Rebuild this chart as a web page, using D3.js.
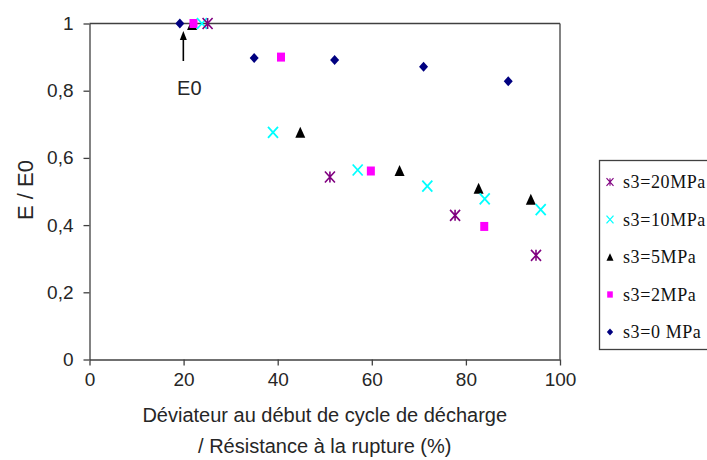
<!DOCTYPE html>
<html><head><meta charset="utf-8">
<script src="https://cdn.jsdelivr.net/npm/d3@7"></script>
<style>body{margin:0;background:#fff} svg{display:block}</style></head>
<body>
<svg id="c" width="707" height="460"></svg>
<script>
// ---- data ----
const xTicks = [0, 20, 40, 60, 80, 100];
const yTicks = [0, 0.2, 0.4, 0.6, 0.8, 1];
const yTickLabels = ["0", "0,2", "0,4", "0,6", "0,8", "1"];

const s0Name = "s3=0 MPa";
const s0x = [19.2, 35.0, 52.1, 71.0, 89.0];
const s0y = [1.0, 0.897, 0.891, 0.871, 0.828];

const s2Name = "s3=2MPa";
const s2x = [22.1, 40.7, 59.8, 83.9];
const s2y = [1.0, 0.90, 0.561, 0.396];

const s5Name = "s3=5MPa";
const s5x = [21.8, 44.8, 65.9, 82.7, 93.8];
const s5y = [0.997, 0.676, 0.5625, 0.51, 0.477];

const s10Name = "s3=10MPa";
const s10x = [23.9, 39.0, 57.0, 71.8, 84.0, 95.9];
const s10y = [1.0, 0.676, 0.564, 0.516, 0.478, 0.446];

const s20Name = "s3=20MPa";
const s20x = [25.1, 51.1, 77.7, 94.9];
const s20y = [1.0, 0.543, 0.429, 0.31];

const xTitle1 = "Déviateur au début de cycle de décharge";
const xTitle2 = "/ Résistance à la rupture (%)";
const yTitle = "E / E0";
const annot = "E0";
const annotX = 19.2;

// ---- layout ----
const svg = d3.select("#c");
const x = d3.scaleLinear().domain([0, 100]).range([89.5, 560]);
const y = d3.scaleLinear().domain([0, 1]).range([359.5, 23.5]);
const axisColor = "#404040";
const textColor = "#262626";

const markers = {
  diamond: {path: "M0,-5L4.5,0L0,5L-4.5,0Z", fill: true},
  square: {path: "M-4,-4.5H4V4.5H-4Z", fill: true},
  triangle: {path: "M0,-5.5L5,5.5L-5,5.5Z", fill: true},
  cross: {path: "M-5,-5.5L5,5.5M5,-5.5L-5,5.5", fill: false, sw: 1.8},
  star: {path: "M-5,-5.5L5,5.5M5,-5.5L-5,5.5M0,-5.5V5.5", fill: false, sw: 1.6}
};

const series = [
  {name: s0Name, xs: s0x, ys: s0y, color: "#000080", m: "diamond"},
  {name: s5Name, xs: s5x, ys: s5y, color: "#000000", m: "triangle"},
  {name: s2Name, xs: s2x, ys: s2y, color: "#FF00FF", m: "square"},
  {name: s10Name, xs: s10x, ys: s10y, color: "#00FFFF", m: "cross"},
  {name: s20Name, xs: s20x, ys: s20y, color: "#800080", m: "star"}
];
const legendOrder = [s20Name, s10Name, s5Name, s2Name, s0Name];

function styleMarker(sel, s) {
  const mk = markers[s.m];
  sel.attr("d", mk.path)
    .attr("fill", mk.fill ? s.color : "none")
    .attr("stroke", mk.fill ? "none" : s.color)
    .attr("stroke-width", mk.sw || 0);
}

// frame (top & right)
svg.append("line").attr("x1", x(0)).attr("x2", x(100)).attr("y1", y(1)).attr("y2", y(1))
  .attr("stroke", axisColor).attr("stroke-width", 1.3);
svg.append("line").attr("x1", x(100)).attr("x2", x(100)).attr("y1", y(1)).attr("y2", y(0))
  .attr("stroke", axisColor).attr("stroke-width", 1.3);

// axes
const xAxis = svg.append("g").attr("transform", `translate(0,${y(0)})`)
  .call(d3.axisBottom(x).tickValues(xTicks).tickSize(6).tickSizeOuter(0).tickPadding(7));
const yAxis = svg.append("g").attr("transform", `translate(${x(0)},0)`)
  .call(d3.axisLeft(y).tickValues(yTicks).tickSize(6).tickSizeOuter(0).tickPadding(10)
    .tickFormat((d, i) => yTickLabels[i]));
[xAxis, yAxis].forEach(a => {
  a.select(".domain").attr("stroke", axisColor).attr("stroke-width", 1.3);
  a.selectAll(".tick line").attr("stroke", axisColor).attr("stroke-width", 1.3);
  a.selectAll(".tick text").attr("fill", textColor)
    .style("font-family", "'Liberation Sans', Arial, sans-serif").style("font-size", "19px");
});

// titles
const tf = "'Liberation Sans', Arial, sans-serif";
svg.append("text").attr("x", (x(0) + x(100)) / 2).attr("y", 422).attr("text-anchor", "middle")
  .style("font-family", tf).style("font-size", "20px").attr("fill", textColor).text(xTitle1);
svg.append("text").attr("x", (x(0) + x(100)) / 2).attr("y", 453).attr("text-anchor", "middle")
  .style("font-family", tf).style("font-size", "20px").attr("fill", textColor).text(xTitle2);
svg.append("text").attr("transform", "translate(33,190) rotate(-90)").attr("text-anchor", "middle")
  .style("font-family", tf).style("font-size", "22px").attr("fill", textColor).text(yTitle);

// annotation arrow
const ax = x(annotX) + 3.5;
svg.append("line").attr("x1", ax).attr("x2", ax).attr("y1", 61).attr("y2", 38)
  .attr("stroke", "#000").attr("stroke-width", 1.6);
svg.append("path").attr("d", `M${ax},31L${ax + 3.5},40L${ax - 3.5},40Z`).attr("fill", "#000");
svg.append("text").attr("x", ax + 6).attr("y", 95).attr("text-anchor", "middle")
  .style("font-family", tf).style("font-size", "20px").attr("fill", textColor).text(annot);

// points
series.forEach(s => {
  const pts = s.xs.map((v, i) => [v, s.ys[i]]);
  svg.append("g").selectAll("path").data(pts).join("path")
    .attr("transform", d => `translate(${x(d[0])},${y(d[1])})`)
    .call(sel => styleMarker(sel, s));
});

// legend
const lg = svg.append("g");
lg.append("rect").attr("x", 599.5).attr("y", 160.5).attr("width", 130).attr("height", 189)
  .attr("fill", "#fff").attr("stroke", axisColor).attr("stroke-width", 1.3);
legendOrder.forEach((nm, i) => {
  const s = series.find(d => d.name === nm);
  const cy = 182 + i * 37.5;
  lg.append("path").attr("transform", `translate(610,${cy}) scale(0.7)`).call(sel => styleMarker(sel, s));
  lg.append("text").attr("x", 623).attr("y", cy + 6)
    .style("font-family", "'Liberation Serif', 'Times New Roman', serif").style("font-size", "18px")
    .style("letter-spacing", "0.6px").attr("fill", "#111").text(nm);
});
</script>
</body></html>
